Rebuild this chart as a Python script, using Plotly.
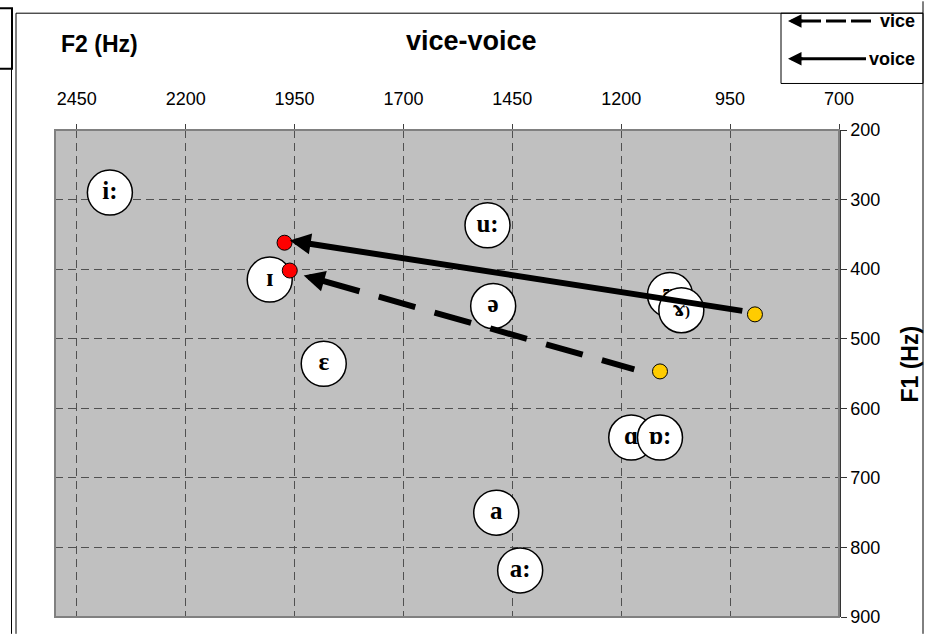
import math
import plotly.graph_objects as go

# ---------------- data ----------------
vowel_labels = ["i:", "u:", "ɪ", "ə", "ɛ", "ʊ",
                "<span style='font-family:DejaVu Serif;font-size:20px'>ɤ</span>"
                "<span style='font-size:15px'>)</span>",
                "ɑ", "ɒ:", "a", "a:"]
vowel_f2 = [2374, 1507, 2007, 1494, 1883, 1088, 1062, 1177, 1111, 1487, 1432]
vowel_f1 = [290, 337, 415, 453, 536, 437, 459, 642, 642, 750, 833]

series_names = ["vice", "voice"]
start_f2 = [1111, 893]   # yellow points
start_f1 = [547, 465]
end_f2 = [1961, 1973]    # red points
end_f1 = [402, 362]

arrow_tail_f2 = [1170, 922]
arrow_tail_f1 = [544, 460]
arrow_tip_f2 = [1929, 1961]
arrow_tip_f1 = [409, 359]
arrow_dash = ["38px,20px", "solid"]

x_ticks = [2450, 2200, 1950, 1700, 1450, 1200, 950, 700]
y_ticks = [200, 300, 400, 500, 600, 700, 800, 900]
x_range = [2500, 700]
y_range = [900, 200]

# ---------------- layout constants ----------------
W, H = 932, 639
ML, MR, MT, MB = 55, 93, 130, 17
PW, PH = W - ML - MR, H - MT - MB
SANS = "Liberation Sans, Arial, sans-serif"
SERIF = "Liberation Serif, Times New Roman, serif"


def px_x(p):
    return (p - ML) / PW


def px_y(p):
    return (H - MB - p) / PH


sx = PW / (x_range[0] - x_range[1])
sy = PH / (y_range[0] - y_range[1])
HEAD_PX = 20

fig = go.Figure()

# vowel circles (one trace each so overlaps stack correctly)
for lab, f2, f1 in zip(vowel_labels, vowel_f2, vowel_f1):
    fig.add_trace(go.Scatter(
        x=[f2], y=[f1], mode="markers+text", text=["<b>" + lab + "</b>"],
        textposition="middle center",
        textfont=dict(family=SERIF, size=25, color="black"),
        marker=dict(size=45, color="white", line=dict(color="black", width=1.5)),
        showlegend=False, hoverinfo="skip"))

# arrow shafts and heads
annotations = []
for i, name in enumerate(series_names):
    tf2, tf1 = arrow_tip_f2[i], arrow_tip_f1[i]
    lf2, lf1 = arrow_tail_f2[i], arrow_tail_f1[i]
    dxp = (lf2 - tf2) * sx
    dyp = (lf1 - tf1) * sy
    L = math.hypot(dxp, dyp)
    f = HEAD_PX / L
    bf2 = tf2 + f * (lf2 - tf2)
    bf1 = tf1 + f * (lf1 - tf1)
    fig.add_trace(go.Scatter(
        x=[bf2, lf2], y=[bf1, lf1], mode="lines",
        line=dict(color="black", width=6, dash=arrow_dash[i]),
        showlegend=False, hoverinfo="skip"))
    annotations.append(dict(
        x=tf2, y=tf1, ax=bf2, ay=bf1, xref="x", yref="y", axref="x", ayref="y",
        text="", showarrow=True, arrowhead=2, arrowwidth=6, arrowsize=0.7,
        arrowcolor="black"))

# start (yellow) and end (red) points
fig.add_trace(go.Scatter(
    x=start_f2, y=start_f1, mode="markers",
    marker=dict(size=15, color="#FFCC00", line=dict(color="black", width=1)),
    showlegend=False, hoverinfo="skip"))
fig.add_trace(go.Scatter(
    x=end_f2, y=end_f1, mode="markers",
    marker=dict(size=15, color="#FF0000", line=dict(color="black", width=1)),
    showlegend=False, hoverinfo="skip"))

# titles
annotations += [
    dict(x=px_x(471), y=px_y(40), xref="paper", yref="paper", text="<b>vice-voice</b>",
         xanchor="center", yanchor="middle",
         showarrow=False, font=dict(family=SANS, size=27, color="black")),
    dict(x=px_x(99), y=px_y(43), xref="paper", yref="paper", text="<b>F2 (Hz)</b>",
         xanchor="center", yanchor="middle",
         showarrow=False, font=dict(family=SANS, size=23, color="black")),
    dict(x=px_x(910), y=px_y(367), xref="paper", yref="paper", text="<b>F1 (Hz)</b>",
         xanchor="center", yanchor="middle",
         textangle=-90, showarrow=False, font=dict(family=SANS, size=23, color="black")),
]

# custom legend
leg_y = [20, 58]
leg_line_end = [873, 866]
for i, name in enumerate(series_names):
    annotations.append(dict(
        x=px_x(788), y=px_y(leg_y[i]), xref="paper", yref="paper", axref="pixel", ayref="pixel",
        ax=16, ay=0, text="", showarrow=True, arrowhead=2, arrowwidth=3, arrowsize=0.9,
        arrowcolor="black"))
    annotations.append(dict(
        x=px_x(917), y=px_y(leg_y[i]), xref="paper", yref="paper", xanchor="right",
        yanchor="middle", text="<b>" + name + "</b>", showarrow=False,
        font=dict(family=SANS, size=18, color="black")))

shapes = [
    # plot area border
    dict(type="rect", xref="paper", yref="paper", x0=0, x1=1, y0=0, y1=1,
         line=dict(color="#808080", width=2), layer="above"),
    # legend box
    dict(type="rect", xref="paper", yref="paper", x0=px_x(781), x1=px_x(923),
         y0=px_y(83), y1=px_y(12), line=dict(color="black", width=1)),
    # frame lines
    dict(type="line", xref="paper", yref="paper", x0=px_x(16), x1=px_x(923),
         y0=px_y(12), y1=px_y(12), line=dict(color="black", width=1)),
    dict(type="line", xref="paper", yref="paper", x0=px_x(923), x1=px_x(923),
         y0=px_y(0), y1=px_y(639), line=dict(color="black", width=1)),
    dict(type="line", xref="paper", yref="paper", x0=px_x(16), x1=px_x(16),
         y0=px_y(12), y1=px_y(639), line=dict(color="black", width=1)),
    dict(type="line", xref="paper", yref="paper", x0=px_x(11.5), x1=px_x(11.5),
         y0=px_y(68), y1=px_y(639), line=dict(color="black", width=1)),
    dict(type="rect", xref="paper", yref="paper", x0=px_x(-6), x1=px_x(12),
         y0=px_y(68), y1=px_y(7), line=dict(color="black", width=2)),
]
for i in range(2):
    shapes.append(dict(type="line", xref="paper", yref="paper",
                       x0=px_x(801), x1=px_x(leg_line_end[i]),
                       y0=px_y(leg_y[i]), y1=px_y(leg_y[i]),
                       line=dict(color="black", width=3,
                                 dash="20px,5px" if i == 0 else "solid")))

fig.update_layout(
    width=W, height=H,
    margin=dict(l=ML, r=MR, t=MT, b=MB, pad=0),
    paper_bgcolor="white", plot_bgcolor="#C0C0C0",
    showlegend=False,
    annotations=annotations, shapes=shapes,
    xaxis=dict(range=x_range, side="top", tickvals=x_ticks,
               ticktext=[str(v) for v in x_ticks],
               showgrid=True, gridcolor="#505050", gridwidth=1, griddash="8px,5px",
               zeroline=False, showline=False, ticks="outside", ticklen=5,
               tickcolor="#404040", ticklabelstandoff=12,
               tickfont=dict(family=SANS, size=18, color="black")),
    yaxis=dict(range=y_range, side="right", tickvals=y_ticks,
               ticktext=[str(v) for v in y_ticks],
               showgrid=True, gridcolor="#505050", gridwidth=1, griddash="8px,5px",
               zeroline=False, showline=True, linecolor="#333333", linewidth=1.5,
               ticks="outside", ticklen=6, tickcolor="#333333",
               tickfont=dict(family=SANS, size=18, color="black")),
)

fig.write_html("out.html", config={"displayModeBar": False},
               post_script="document.body.style.margin='0px';document.body.style.padding='0px';")
